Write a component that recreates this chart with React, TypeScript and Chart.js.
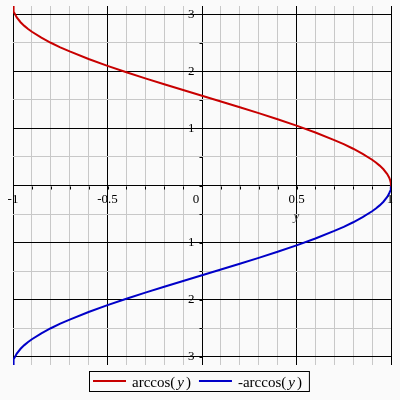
import React, { useEffect, useRef } from "react";
import { Chart, registerables } from "chart.js";

Chart.register(...registerables);

// horizontal variable (y in the plot's own naming)
const yValues = [
  -1, -0.999, -0.995, -0.99, -0.98, -0.96, -0.94, -0.92, -0.9, -0.85, -0.8, -0.75, -0.7,
  -0.6, -0.5, -0.4, -0.3, -0.2, -0.1, 0, 0.1, 0.2, 0.3, 0.4, 0.5, 0.6, 0.7, 0.75, 0.8,
  0.85, 0.9, 0.92, 0.94, 0.96, 0.98, 0.99, 0.995, 0.999, 1,
];
const arccosValues = [
  3.1416, 3.0969, 3.0416, 3.0001, 2.9413, 2.8578, 2.7934, 2.7389, 2.6906, 2.5868, 2.4981,
  2.4189, 2.3462, 2.2143, 2.0944, 1.9823, 1.8755, 1.7722, 1.671, 1.5708, 1.4706, 1.3694,
  1.2661, 1.1593, 1.0472, 0.9273, 0.7954, 0.7227, 0.6435, 0.5548, 0.451, 0.4027, 0.3482,
  0.2838, 0.2003, 0.1415, 0.1, 0.0447, 0,
];
const negArccosValues = [
  -3.1416, -3.0969, -3.0416, -3.0001, -2.9413, -2.8578, -2.7934, -2.7389, -2.6906, -2.5868,
  -2.4981, -2.4189, -2.3462, -2.2143, -2.0944, -1.9823, -1.8755, -1.7722, -1.671, -1.5708,
  -1.4706, -1.3694, -1.2661, -1.1593, -1.0472, -0.9273, -0.7954, -0.7227, -0.6435, -0.5548,
  -0.451, -0.4027, -0.3482, -0.2838, -0.2003, -0.1415, -0.1, -0.0447, 0,
];
const xTickValues = [-1, -0.5, 0, 0.5, 1];
const xTickLabels = ["-1", "-0.5", "0", "0.5", "1"];
const yTickValues = [3, 2, 1, -1, -2, -3];
const yTickLabels = ["3", "2", "1", "1", "2", "3"];
const seriesNames = ["arccos", "-arccos"];
const seriesArg = "y";
const axisTitle = "y";
const seriesColors = ["#c80000", "#0000c8"];

const FONT = '"Liberation Serif", "Times New Roman", serif';

const isMajor = (v: number, step: number) => Math.abs(v / step - Math.round(v / step)) < 1e-6;

const decorPlugin = {
  id: "decor",
  beforeDraw(chart: any) {
    const ctx = chart.ctx;
    ctx.save();
    ctx.fillStyle = "#fafafa";
    ctx.fillRect(0, 0, chart.width, chart.height);
    ctx.restore();
  },
  afterDraw(chart: any) {
    const ctx = chart.ctx;
    const xs = chart.scales.x;
    const ys = chart.scales.y;
    const x0 = Math.round(xs.getPixelForValue(0)) + 0.5;
    const y0 = Math.round(ys.getPixelForValue(0)) + 0.5;
    ctx.save();
    // small tick marks on axes
    ctx.strokeStyle = "#000";
    ctx.lineWidth = 1;
    ctx.beginPath();
    xs.ticks.forEach((t: any) => {
      const px = Math.round(xs.getPixelForValue(t.value)) + 0.5;
      ctx.moveTo(px, y0);
      ctx.lineTo(px, y0 + 3);
    });
    ys.ticks.forEach((t: any) => {
      const py = Math.round(ys.getPixelForValue(t.value)) + 0.5;
      ctx.moveTo(x0 - 3, py);
      ctx.lineTo(x0, py);
    });
    ctx.stroke();

    // x tick labels
    ctx.fillStyle = "#000";
    ctx.font = `13px ${FONT}`;
    ctx.textBaseline = "middle";
    ctx.textAlign = "center";
    xTickValues.forEach((v, i) => {
      let px = xs.getPixelForValue(v);
      if (v === 0) px -= 6;
      if (v === 1) px -= 1;
      ctx.fillText(xTickLabels[i], px, y0 + 13);
    });
    // y tick labels
    ctx.textAlign = "right";
    yTickValues.forEach((v, i) => {
      ctx.fillText(yTickLabels[i], x0 - 8, ys.getPixelForValue(v));
    });
    // axis title
    ctx.fillStyle = "#444";
    ctx.font = `italic 13px ${FONT}`;
    ctx.textAlign = "center";
    ctx.fillText(axisTitle, xs.getPixelForValue(0.5), y0 + 30);

    // legend
    const fs = 15;
    const baseY = 387;
    const boxL = 89;
    const boxT = 371;
    const normal = `${fs}px ${FONT}`;
    const ital = `italic ${fs}px ${FONT}`;
    ctx.textAlign = "left";
    ctx.textBaseline = "alphabetic";
    ctx.fillStyle = "#000";
    let x = boxL + 4;
    const drawLabel = (name: string) => {
      ctx.font = normal;
      ctx.fillText(name + "(", x, baseY);
      x += ctx.measureText(name + "(").width + 2;
      ctx.font = ital;
      ctx.fillText(seriesArg, x, baseY);
      x += ctx.measureText(seriesArg).width + 2;
      ctx.font = normal;
      ctx.fillText(")", x, baseY);
      x += ctx.measureText(")").width;
    };
    seriesNames.forEach((name, i) => {
      ctx.strokeStyle = seriesColors[i];
      ctx.lineWidth = 2;
      ctx.beginPath();
      ctx.moveTo(x, 381);
      ctx.lineTo(x + 33, 381);
      ctx.stroke();
      x += 39;
      drawLabel(name);
      x += 8;
    });
    const boxR = x - 8 + 7;
    ctx.strokeStyle = "#000";
    ctx.lineWidth = 1;
    ctx.strokeRect(boxL + 0.5, boxT + 0.5, boxR - boxL, 20);
    ctx.restore();
  },
};

export default function App() {
  const ref = useRef<HTMLCanvasElement | null>(null);
  useEffect(() => {
    if (!ref.current) return;
    const gridColor = (step: number) => (c: any) =>
      c.tick && isMajor(c.tick.value, step) ? "#000000" : "#c8c8c8";
    const chart = new Chart(ref.current, {
      type: "scatter",
      data: {
        datasets: [
          {
            label: seriesNames[0],
            data: yValues.map((v, i) => ({ x: v, y: arccosValues[i] })),
            borderColor: seriesColors[0],
            backgroundColor: seriesColors[0],
            borderWidth: 2,
            showLine: true,
            pointRadius: 0,
            tension: 0,
          },
          {
            label: seriesNames[1],
            data: yValues.map((v, i) => ({ x: v, y: negArccosValues[i] })),
            borderColor: seriesColors[1],
            backgroundColor: seriesColors[1],
            borderWidth: 2,
            showLine: true,
            pointRadius: 0,
            tension: 0,
          },
        ],
      },
      options: {
        animation: false,
        responsive: false,
        layout: { padding: { left: 13, right: 9, top: 6, bottom: 35 } },
        plugins: { legend: { display: false }, tooltip: { enabled: false } },
        scales: {
          x: {
            type: "linear",
            min: -1,
            max: 1,
            ticks: { stepSize: 0.1, display: false, includeBounds: false },
            grid: { color: gridColor(0.5), lineWidth: 1, drawTicks: false },
            border: { display: false },
          },
          y: {
            type: "linear",
            min: -Math.PI,
            max: Math.PI,
            ticks: { stepSize: 0.5, display: false, includeBounds: false },
            grid: { color: gridColor(1), lineWidth: 1, drawTicks: false },
            border: { display: false },
          },
        },
      },
      plugins: [decorPlugin],
    });
    return () => chart.destroy();
  }, []);
  return (
    <div style={{ position: "fixed", left: 0, top: 0, width: 400, height: 400, background: "#fafafa" }}>
      <canvas ref={ref} width={400} height={400} style={{ display: "block" }} />
    </div>
  );
}
